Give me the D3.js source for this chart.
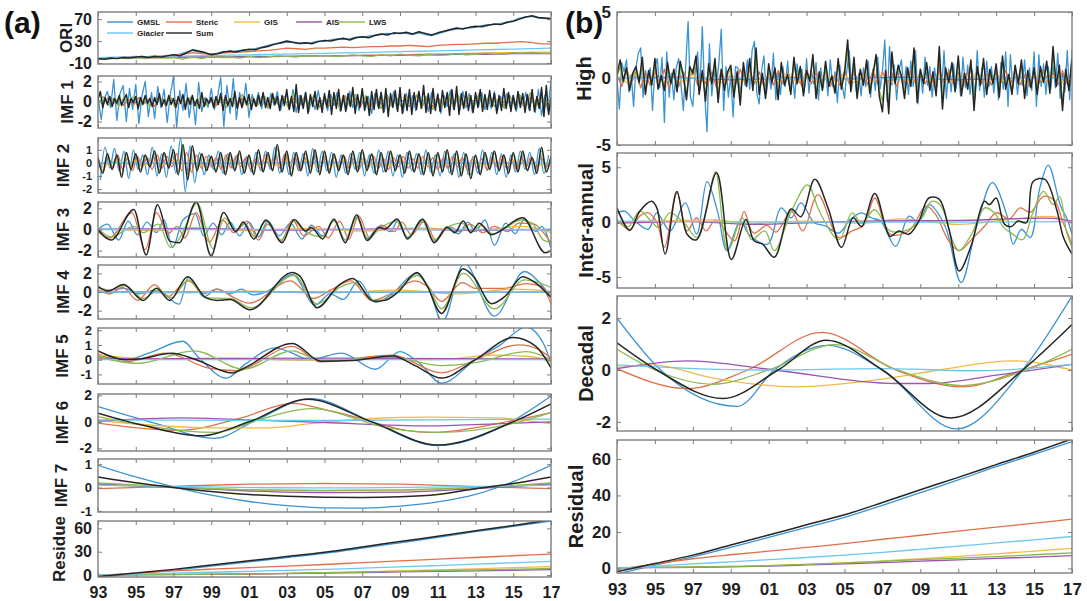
<!DOCTYPE html>
<html>
<head>
<meta charset="utf-8">
<script src="https://cdn.jsdelivr.net/npm/d3@7"></script>
<style>
  html, body { margin: 0; padding: 0; background: #fff; }
  svg { display: block; font-family: "Liberation Sans", Arial, Helvetica, sans-serif; }
</style>
</head>
<body>
<svg id="chart" width="1087" height="601"></svg>
<script>
// ---------------- series & axes ----------------
const seriesNames  = ["GMSL", "Steric", "GIS", "AIS", "LWS", "Glacier", "Sum"];
const seriesColors = ["#3a93d2", "#e07048", "#f0bb48", "#9a55ad", "#88ba50", "#6cc8ef", "#262626"];
const xTickYears  = [1993, 1995, 1997, 1999, 2001, 2003, 2005, 2007, 2009, 2011, 2013, 2015, 2017];
const xTickLabels = ["93", "95", "97", "99", "01", "03", "05", "07", "09", "11", "13", "15", "17"];
const T0 = 1993, T1 = 2017;

// ---------------- (a) ORI : original series (mm) ----------------
const oriGmsl = [-3,-2,-2, -1,-1,0, 0,2,1, 1,2,4, 4,6,10, 13,10,8, 6,8,11, 10,12,14, 14,16,19, 22,25,26, 28,27,25, 26,27,30, 30,32,34, 33,34,37, 37,39,41, 42,44,43, 45,44,42, 45,42,40, 43,47,50, 52,53,54, 55,58,60, 60,62,65, 67,72,74, 75,72,71, 70];
const oriSteric = [-2,-1, 0,1, 2,1, 3,2, 4,6, 9,7, 6,8, 9,10, 11,12, 13,15, 17,16, 15,17, 17,18, 19,18, 19,20, 20,21, 21,22, 21,20, 22,23, 24,24, 25,26, 26,27, 28,29, 27,25, 25];
const oriGis = [-1,-1,0,-1,0,0,1,0,1,1,2,2,3,3,4,5,5,6,7,7,8,9,9,10,10];
const oriAis = [-1,0,0,0,1,1,1,1,2,2,2,3,3,3,4,4,4,5,5,6,6,6,7,7,7];
const oriLws = [-2,-3,-1,-2,0,-2,1,-1,0,-3,1,-2,2,0,1,-1,2,0,1,3,2,1,3,2,4,2,3,5,3,2,5,3,6,4,3,6,4,5,7,5,6,8,6,7,9,8,9,8,8];
const oriGlacier = [0,0.6,1.2,1.8,2.4,3.0,3.6,4.2,4.9,5.6,6.3,7.0,7.7,8.4,9.1,9.8,10.6,11.4,12.2,13.0,13.8,14.6,15.4,16.2,17.0];
const oriSum = [-2,-3,-1, -2,0,-1, 1,2,0, 2,1,3, 5,3,8, 14,12,9, 5,7,10, 12,10,13, 15,14,18, 20,24,27, 30,28,26, 27,25,29, 31,30,33, 35,32,36, 38,36,40, 43,41,45, 44,46,43, 47,44,41, 45,48,51, 54,52,55, 57,56,59, 61,60,64, 66,70,74, 76,73,72, 71];

// ---------------- (a) IMF 1 ----------------
const imf1Gmsl = [
  0.5,-1.8,0.3,1.0,-0.6,2.2, -1.9,0.8,1.6,-2.0,1.3,-0.8, 1.7,-2.2,0.6,2.0,-1.5,0.9, -1.7,1.5,-0.6,1.2,-2.1,0.7,
  2.5,-2.6,1.1,-0.9,1.8,-1.6, 0.6,-2.3,1.9,-1.0,0.4,-0.6, 1.3,-0.8,0.5,2.4,-2.5,1.6, -1.2,2.3,-1.8,0.9,-0.5,1.8,
  -1.6,0.7,-0.4,0.9,-0.7,0.5, -0.6,0.8,-0.4,1.0,-0.9,0.3, 0.8,-0.7,1.2,-1.1,0.6,-0.5, 0.9,-1.0,0.4,-0.8,1.1,-0.6,
  0.5,-0.9,0.7,-0.4,0.9,-1.0, 0.6,-0.8,1.0,-0.6,0.4,-0.9, 1.1,-0.7,0.5,-1.2,0.8,-0.5, 0.9,-1.0,0.6,-0.4,1.0,-0.8,
  0.7,-1.1,0.8,-0.5,0.6,-0.9, 1.0,-0.6,0.5,-1.0,0.9,-0.7, 0.8,-1.2,0.6,-0.5,1.1,-0.8, 0.5,-0.9,1.0,-0.6,0.8,-1.1,
  0.7,-0.5,0.9,-0.8,0.4,-0.7, 1.0,-0.9,0.5,-0.6,0.8,-0.5, 0.6,-1.0,0.7,-0.4,0.9,-0.8, 0.5,-1.1,1.2,-1.4,0.6,-0.9, 2.1];
const imf1Steric = [0.2,-0.3,0.4,-0.2, 0.3,-0.4,0.2,-0.3, 0.4,-0.2,0.3,-0.5, 0.2,-0.3,0.5,-0.2, 0.3,-0.4,0.2,-0.3, 0.5,-0.3,0.2,-0.4, 0.3,-0.2,0.4,-0.5, 0.3,-0.4,0.2,-0.3, 0.6,-0.5,0.4,-0.3, 0.5,-0.6,0.3,-0.4, 0.4,-0.3,0.6,-0.5, 0.3,-0.4,0.5,-0.3, 0.6,-0.4,0.3,-0.5, 0.4,-0.6,0.5,-0.3, 0.5,-0.4,0.3,-0.6, 0.4,-0.3,0.6,-0.4, 0.3,-0.5,0.4,-0.3, 0.5,-0.4,0.3,-0.5, 0.4,-0.3,0.5,-0.4, 0.3,-0.5,0.4,-0.3, 0.6,-0.4,0.3,-0.5, 0.4,-0.3,0.5,-0.4, 0.3];
const imf1Gis = [0.1,-0.1,0.2,-0.1,0.1,-0.2,0.1,0.0,0.2,-0.1,0.1,-0.2,0.2,-0.1,0.1,-0.2,0.2,-0.2,0.3,-0.1,0.2,-0.2,0.1,-0.3,0.2,-0.1,0.3,-0.2,0.1,-0.2,0.3,-0.2,0.2,-0.3,0.1,-0.2,0.3,-0.1,0.2,-0.3,0.2,-0.2,0.3,-0.2,0.1,-0.3,0.2,-0.1,0.2];
const imf1Ais = [0.05,-0.05,0.08,-0.06,0.04,-0.07,0.06,-0.05,0.07,-0.04,0.05,-0.06,0.04];
const imf1Lws = [-0.3,0.5,-0.4,0.3, -0.5,0.4,-0.2,0.6, -0.4,0.3,-0.5,0.2, 0.4,-0.3,0.5,-0.6, 0.3,-0.2,0.4,-0.5, 0.6,-0.4,0.3,-0.2, 0.5,-0.6,0.4,-0.3, 0.7,-0.5,0.3,-0.4, 0.6,-0.7,0.5,-0.3, 0.4,-0.6,0.8,-0.5, 0.3,-0.4,0.7,-0.6, 0.5,-0.3,0.6,-0.8, 0.4,-0.5,0.7,-0.3, 0.6,-0.4,0.5,-0.7, 0.8,-0.5,0.4,-0.6, 0.5,-0.3,0.7,-0.5, 0.6,-0.8,0.4,-0.4, 0.7,-0.5,0.6,-0.3, 0.5,-0.6,0.8,-0.4, 0.6,-0.5,0.4,-0.7, 0.5,-0.4,0.6,-0.5, 0.9,-0.6,0.4,-0.5, -0.3];
const imf1Glacier = [0,0.02,-0.02,0.01,-0.01,0.02,-0.02,0.01,0];
const imf1Sum = [
  0.2,1.0,-0.6,0.4,-0.3,0.5,-0.5,0.3, -0.2,0.6,-0.4,0.2,0.7,-0.6,0.3,-0.1, 0.5,-0.7,0.4,-0.3,0.6,-0.2,0.3,-0.5,
  0.4,-0.3,0.8,-0.5,0.2,-0.4,0.6,-0.3, 0.3,-0.6,0.5,-0.2,0.7,-0.8,0.4,-0.3, 0.6,-0.4,0.2,-0.7,0.9,-0.5,0.3,-0.2,
  0.4,-0.6,0.5,-0.3,0.8,-0.9,0.6,-0.4, 0.3,-0.5,1.0,-0.7,0.4,-0.6,0.5,-0.3, 0.7,-0.8,0.3,-0.5,0.6,-0.4,0.9,-0.6,
  0.4,-0.7,0.8,-0.3,0.5,-0.9,0.6,-0.4, 1.2,-0.8,0.5,-1.0,1.7,-1.1,0.6,-0.7, 0.9,-1.2,0.7,-0.5,1.0,-0.8,0.4,-1.1,
  0.8,-0.6,1.1,-1.3,0.9,-0.7,1.2,-0.9, 0.6,-1.0,0.8,-0.5,1.4,-1.2,0.7,-0.6, 1.3,-0.9,0.5,-1.4,1.0,-0.8,1.2,-0.7,
  0.9,-1.1,1.3,-1.5,0.8,-0.6,1.1,-1.0, 1.4,-1.2,0.7,-0.9,1.2,-1.3,0.9,-0.8, 1.0,-0.7,1.6,-1.1,0.8,-1.2,1.3,-0.9,
  0.7,-1.0,1.1,-0.6,0.9,-1.4,1.2,-0.8, 1.5,-1.3,0.8,-0.7,1.0,-0.9,0.6,-1.1, 0.9,-0.6,1.2,-1.0,0.7,-0.8,1.1,-0.5,
  0.8,-1.2,0.6,-0.9,1.3,-0.7,0.9,-1.0, 0.6,-0.8,1.0,-0.6,0.8,-1.1,0.7,-0.9, 1.2,-1.0,0.5,-0.7,1.4,-1.5,1.6,-1.3, 0.4];

// ---------------- (a) IMF 2 ----------------
const imf2Gmsl = [
  -1.3,1.2,-0.4,1.1, -0.6,0.9,-1.2,1.0, -0.5,0.6,-0.9,1.2, -1.0,0.7,-1.1,1.3, -0.8,1.9,-2.2,1.3, -1.5,0.8,-0.9,0.6,
  -0.5,0.9,-0.8,0.7, -0.4,0.6,-0.9,0.5, -0.7,0.8,-0.6,0.9, -0.5,1.2,-0.8,0.6, -0.9,0.8,-0.6,0.7, -1.0,1.1,-0.7,0.9,
  -0.6,0.8,-1.1,0.6, -0.8,0.7,-0.5,0.8, -1.0,0.6,-0.8,1.0, -0.7,0.9,-1.0,0.6, -1.1,0.8,-0.6,0.7, -0.9,1.0,-0.7,0.6,
  -1.0,0.9,-0.8,0.7, -1.1,0.8,-0.9,0.5, -0.8,1.0,-0.6,0.8, -0.9,0.7,-1.1,0.6, -0.7,0.9,-0.5,0.8, -0.9,1.1,-0.8,0.6];
const imf2Steric = [0.5,-0.7,0.4,-0.3, 0.6,-0.5,0.4,-0.6, 0.5,-0.3,0.4,-0.5, 0.6,-0.4,0.5,-0.3, 0.7,-0.6,0.8,-0.7, 0.6,-0.4,0.5,-0.3, 0.4,-0.5,0.6,-0.4, 0.5,-0.3,0.4,-0.5, 0.3,-0.4,0.6,-0.3, 0.5,-0.4,0.7,-0.4, 0.5,-0.6,0.4,-0.3, 0.6,-0.4,0.5,-0.5, 0.4,-0.3,0.5,-0.4, 0.3,-0.5,0.4,-0.3, 0.5,-0.4,0.3,-0.5, 0.4,-0.3,0.5,-0.4, 0.3,-0.4,0.5,-0.3, 0.4,-0.5,0.3,-0.4, 0.5,-0.3,0.4,-0.5, 0.3,-0.4,0.3,-0.5, 0.4,-0.3,0.5,-0.4, 0.3,-0.5,0.4,-0.3, 0.5,-0.4,0.4,-0.3, 0.4];
const imf2Gis = [0.1,-0.15,0.2,-0.1,0.15,-0.2,0.1,-0.15,0.2,-0.1,0.15,-0.2,0.2,-0.1,0.15,-0.2,0.1,-0.15,0.2,-0.2,0.15,-0.1,0.2,-0.15,0.1,-0.2,0.15,-0.1,0.2,-0.15,0.1,-0.2,0.2,-0.1,0.15,-0.2,0.1,-0.15,0.2,-0.1,0.15,-0.2,0.1,-0.15,0.2,-0.1,0.15,-0.2,0.1];
const imf2Ais = [0.02,-0.03,0.03,-0.02,0.02];
const imf2Lws = [
  0.3,-0.6,0.6,-0.4, 0.5,-0.9,0.6,-0.4, 0.6,-0.5,0.5,-0.3, 0.7,-0.6,0.6,-0.3, 0.8,-0.7,1.1,-1.0, 1.0,-0.5,0.6,-0.5,
  0.4,-0.6,0.6,-0.7, 0.6,-0.5,0.7,-0.6, 0.5,-0.7,0.8,-0.6, 0.6,-0.5,1.1,-0.6, 0.7,-0.8,0.6,-0.5, 0.7,-0.6,0.8,-0.7,
  0.7,-0.6,0.6,-0.5, 0.5,-0.7,0.7,-0.6, 0.8,-0.5,0.6,-0.7, 0.6,-0.6,0.7,-0.5, 0.5,-0.6,0.7,-0.6, 0.6,-0.7,0.6,-0.8,
  0.6,-0.6,0.8,-0.7, 0.7,-0.8,0.6,-0.9, 0.5,-0.7,0.6,-0.4, 0.7,-0.5,0.5,-0.6, 0.6,-0.6,0.7,-0.5, 0.3,-0.6,0.9,-0.6, 0.4];
const imf2Glacier = [0.01,-0.01,0.01];
const imf2Sum = [
  0.4,-0.8,0.7,-0.5, 0.6,-1.1,0.8,-0.5, 0.7,-0.7,0.6,-0.3, 0.9,-0.8,0.8,-0.4, 1.0,-0.9,1.4,-1.3, 1.3,-0.6,0.7,-0.6,
  0.5,-0.7,0.8,-0.9, 0.8,-0.6,0.9,-0.8, 0.6,-0.9,1.0,-0.7, 0.8,-0.6,1.4,-0.7, 0.9,-1.0,0.8,-0.6, 0.9,-0.8,1.0,-0.9,
  0.9,-0.8,0.7,-0.6, 0.6,-0.9,0.9,-0.7, 1.0,-0.6,0.7,-0.9, 0.8,-0.7,0.9,-0.6, 0.6,-0.8,0.9,-0.7, 0.7,-0.9,0.8,-1.0,
  0.8,-0.7,1.0,-0.9, 0.9,-1.0,0.7,-1.2, 0.6,-0.9,0.8,-0.5, 0.9,-0.6,0.6,-0.8, 0.8,-0.7,0.9,-0.6, 0.4,-0.8,1.2,-0.7, 0.5];

// ---------------- (a) IMF 3 : [year, value] turning points ----------------
const imf3Gmsl = [[1993.0,0.0],[1993.5,0.5],[1994.1,-1.0],[1994.6,0.8],[1995.1,-0.5],[1995.6,0.7],[1996.1,-0.3],[1996.5,0.9],[1996.95,-1.7],[1997.5,0.9],[1998.15,1.5],[1998.6,-0.6],[1999.1,0.6],[1999.55,-0.5],[2000.0,0.7],[2000.5,-0.6],[2001.0,0.7],[2001.5,-0.7],[2002.0,0.8],[2002.6,-0.6],[2003.2,0.6],[2003.8,-0.9],[2004.3,0.4],[2004.9,-0.6],[2005.5,0.9],[2006.1,-1.0],[2006.7,1.2],[2007.25,-0.9],[2007.9,0.3],[2008.5,-0.2],[2008.9,0.9],[2009.4,-0.8],[2010.15,0.9],[2010.8,-1.1],[2011.5,0.3],[2012.1,-0.4],[2012.6,0.7],[2013.0,-0.2],[2013.5,0.9],[2014.0,-1.5],[2014.6,0.6],[2015.1,-0.4],[2015.6,1.0],[2016.2,-0.2],[2016.5,0.3],[2017.0,-1.8]];
const imf3Steric = [[1993.0,-0.2],[1993.6,-0.8],[1994.8,1.6],[1995.5,-1.9],[1996.1,1.6],[1996.7,-0.4],[1997.2,0.3],[1997.6,-0.8],[1998.2,1.6],[1998.9,-1.2],[1999.6,0.9],[2000.2,-0.3],[2000.9,0.8],[2001.5,-1.0],[2002.0,0.5],[2002.7,-1.1],[2003.3,0.9],[2003.9,-0.6],[2004.7,0.3],[2005.2,-0.8],[2005.8,0.8],[2006.3,-0.9],[2006.8,1.3],[2007.4,-0.8],[2008.0,0.4],[2008.7,-0.2],[2009.1,0.7],[2009.6,-0.5],[2010.3,0.8],[2010.9,-1.0],[2011.6,0.3],[2012.2,-0.2],[2012.7,0.5],[2013.4,-0.3],[2014.0,0.3],[2014.7,-0.2],[2015.3,0.6],[2016.1,0.5],[2016.6,-0.3],[2017.0,-1.3]];
const imf3Gis = [[1993,0.05],[1996,-0.1],[1998,0.15],[2001,-0.1],[2004,0.1],[2007,-0.15],[2010,0.15],[2013,-0.1],[2015.5,0.3],[2017,-0.3]];
const imf3Ais = [[1993,0],[1998,0.1],[2003,-0.05],[2008,0.05],[2013,-0.05],[2017,0]];
const imf3Lws = [[1993.0,0.1],[1993.7,-0.7],[1994.9,0.3],[1995.4,-0.3],[1996.2,0.5],[1996.85,-1.7],[1997.4,-0.6],[1998.25,2.5],[1999.1,-1.8],[1999.7,1.1],[2000.3,-0.1],[2000.8,0.5],[2001.3,-0.7],[2001.9,0.8],[2002.7,-1.0],[2003.35,0.8],[2004.0,-0.2],[2004.9,-0.7],[2005.5,0.8],[2006.1,-1.0],[2006.7,1.1],[2007.3,-0.8],[2008.0,0.2],[2008.8,0.8],[2009.4,-0.7],[2010.2,0.8],[2010.8,-1.0],[2011.5,0.2],[2012.3,0.6],[2012.8,-0.2],[2013.3,0.4],[2013.9,-0.4],[2014.6,0.2],[2015.4,0.9],[2016.0,0.6],[2016.6,-1.0],[2017.0,-1.2]];
const imf3Glacier = [[1993,0],[2017,0]];
const imf3Sum = [[1993.0,0.0],[1993.7,-1.0],[1994.9,1.9],[1995.55,-2.4],[1996.15,2.35],[1996.8,-1.1],[1997.3,-1.25],[1998.2,2.6],[1999.0,-2.5],[1999.65,1.6],[2000.3,-0.2],[2000.7,0.7],[2001.25,-0.9],[2001.9,0.9],[2002.75,-1.25],[2003.4,0.95],[2004.0,-0.15],[2004.3,0.2],[2004.9,-0.9],[2005.5,1.0],[2006.1,-1.25],[2006.7,1.4],[2007.25,-1.05],[2007.9,0.2],[2008.2,0.05],[2008.85,1.0],[2009.4,-0.9],[2010.2,1.0],[2010.8,-1.25],[2011.5,0.2],[2011.9,-0.3],[2012.35,0.8],[2012.75,-0.3],[2013.2,0.6],[2013.85,-0.5],[2014.6,0.2],[2015.05,0.8],[2015.5,1.1],[2016.7,-2.2],[2017.0,-2.0]];

// ---------------- (a) IMF 4 ----------------
const imf4Gmsl = [[1993.0,0.5],[1993.6,0.2],[1994.4,0.4],[1995.2,-0.2],[1996.0,0.2],[1996.6,-0.4],[1997.3,-1.3],[1997.8,1.6],[1998.6,-0.5],[1999.3,0.3],[2000.0,-0.2],[2000.6,0.3],[2001.2,-0.3],[2002.0,0.1],[2003.3,1.9],[2004.5,-1.4],[2005.3,-0.2],[2006.0,-0.8],[2006.8,1.2],[2007.7,-1.1],[2008.4,-0.5],[2009.9,2.0],[2010.5,0.5],[2011.25,-3.2],[2012.4,3.1],[2014.0,-2.6],[2015.6,2.2],[2016.4,1.0],[2017.0,-0.5]];
const imf4Steric = [[1993.0,0.3],[1993.6,-0.2],[1994.3,0.5],[1995.1,-0.9],[1996.0,0.8],[1996.7,-0.5],[1997.3,0.5],[1997.8,1.2],[1998.6,-0.2],[1999.3,0.3],[2000.2,-0.6],[2001.0,-1.2],[2003.2,1.2],[2004.4,-0.7],[2005.4,0.3],[2006.4,1.2],[2007.5,-0.9],[2008.3,-0.4],[2009.8,1.2],[2010.5,0.5],[2011.2,-1.0],[2012.3,1.0],[2013.0,0.4],[2014.5,0.4],[2015.7,0.9],[2016.5,0.6],[2017.0,-1.3]];
const imf4Gis = [[1993,0.1],[1997,-0.1],[2001,0.1],[2005,-0.1],[2009,0.2],[2012,-0.2],[2015,0.3],[2017,0.1]];
const imf4Ais = [[1993,0],[2000,0.05],[2008,-0.05],[2017,0]];
const imf4Lws = [[1993.0,0.5],[1993.6,0.2],[1994.4,0.7],[1995.4,-0.7],[1996.2,0.2],[1996.9,-0.6],[1997.8,1.3],[1998.7,-0.6],[2000.0,-0.7],[2001.1,-1.7],[2003.4,1.8],[2004.6,-1.3],[2005.9,0.6],[2006.6,1.0],[2007.6,-0.9],[2008.4,-0.7],[2009.9,1.8],[2010.5,0.6],[2011.2,-1.8],[2012.35,2.0],[2014.0,-1.8],[2015.6,1.3],[2017.0,0.5]];
const imf4Glacier = [[1993,0],[2017,0]];
const imf4Sum = [[1993.0,0.6],[1993.5,0.1],[1994.35,0.8],[1995.4,-0.9],[1996.1,0.4],[1996.8,-0.9],[1997.75,1.65],[1998.7,-0.6],[1999.3,-0.9],[2000.0,-0.8],[2001.05,-1.9],[2003.3,2.1],[2003.7,1.7],[2004.6,-1.7],[2005.8,0.8],[2006.5,1.45],[2007.6,-1.0],[2008.2,-0.9],[2008.9,0.0],[2009.9,2.1],[2010.4,0.8],[2011.2,-2.3],[2012.35,2.5],[2012.9,1.65],[2013.85,-1.25],[2014.6,-0.4],[2015.5,1.65],[2016.3,0.8],[2017.0,-0.6]];

// ---------------- (a) IMF 5 ----------------
const imf5Gmsl = [[1993.0,0.25],[1994.5,0.0],[1995.8,0.5],[1997.5,1.25],[1998.3,0.2],[1999.8,-1.25],[2000.8,-0.3],[2002.4,0.8],[2003.2,0.5],[2004.2,0.0],[2005.9,0.45],[2007.7,-0.65],[2009.0,0.55],[2010.0,-0.2],[2011.2,-1.6],[2013.0,0.0],[2014.2,0.9],[2015.7,2.2],[2016.6,1.1],[2017.0,-0.2]];
const imf5Steric = [[1993.0,0.4],[1994.5,-0.15],[1996.6,0.45],[1998.8,-0.55],[2000.3,-0.75],[2003.3,0.9],[2004.8,-0.15],[2008.6,0.3],[2011.2,-0.9],[2013.0,0.0],[2015.3,1.0],[2016.4,0.65],[2017.0,0.1]];
const imf5Gis = [[1993,0.3],[1996,0.05],[2000,0.1],[2004,-0.05],[2008,0.05],[2011,0.0],[2014,0.3],[2016,0.2],[2017,-0.15]];
const imf5Ais = [[1993,0.05],[2005,0.1],[2017,0.05]];
const imf5Lws = [[1993.0,0.2],[1995.1,-0.25],[1998.1,0.6],[2000.7,-0.65],[2003.3,0.6],[2004.8,-0.05],[2008.6,0.15],[2011.2,-0.4],[2013.0,-0.2],[2015.7,0.55],[2017.0,0.0]];
const imf5Glacier = [[1993,0],[2017,0]];
const imf5Sum = [[1993.0,0.6],[1994.5,0.0],[1995.2,0.05],[1996.9,0.43],[1998.2,0.0],[2000.1,-0.9],[2000.7,-0.6],[2003.3,1.1],[2004.8,-0.1],[2006.5,-0.05],[2008.6,0.25],[2009.8,-0.4],[2011.2,-1.25],[2013.0,0.0],[2015.0,1.5],[2016.2,0.9],[2017.0,-0.55]];

// ---------------- (a) IMF 6 ----------------
const imf6Gmsl = [[1993.0,1.15],[1996.0,-0.1],[1999.2,-1.25],[2001.2,0.0],[2004.3,1.75],[2007.5,0.0],[2011.0,-1.8],[2015.0,0.1],[2017.0,1.95]];
const imf6Steric = [[1993.0,-0.1],[1997.3,-0.65],[2000.6,0.3],[2003.3,1.4],[2005.4,0.8],[2010.5,-0.8],[2015.0,0.1],[2017.0,0.7]];
const imf6Gis = [[1993.0,0.1],[1999.0,-0.45],[2002.0,-0.45],[2004.5,-0.1],[2007.5,0.25],[2010.5,0.35],[2014.0,0.3],[2017.0,-0.15]];
const imf6Ais = [[1993.0,0.05],[1997.5,0.3],[2001.0,0.15],[2005.0,-0.05],[2010.5,-0.3],[2014.0,-0.15],[2017.0,0.0]];
const imf6Lws = [[1993.0,0.4],[1999.2,-0.8],[2001.6,0.2],[2004.3,1.0],[2008.5,-0.5],[2011.0,-0.8],[2015.2,-0.05],[2017.0,0.7]];
const imf6Glacier = [[1993,0.15],[2005,0.1],[2017,0.2]];
const imf6Sum = [[1993.0,0.65],[1995.5,-0.3],[1998.4,-1.05],[2001.0,0.0],[2004.1,1.7],[2007.5,0.0],[2011.0,-1.75],[2015.0,0.0],[2017.0,1.35]];

// ---------------- (a) IMF 7 (even steps) ----------------
const imf7Gmsl = [0.95,0.45,0.03,-0.33,-0.6,-0.78,-0.87,-0.88,-0.8,-0.62,-0.3,0.25,0.95];
const imf7Steric = [-0.05,0.05,0.14,0.17,0.14,0.04,-0.05];
const imf7Gis = [0.1,0.02,-0.1,-0.15,-0.12,-0.02,0.15];
const imf7Ais = [0.15,0.0,-0.15,-0.22,-0.2,-0.05,0.15];
const imf7Lws = [0.2,0.02,-0.1,-0.12,-0.1,0.0,0.2];
const imf7Glacier = [0.1,-0.02,0.1];
const imf7Sum = [0.45,0.2,0.0,-0.17,-0.3,-0.38,-0.42,-0.43,-0.4,-0.3,-0.05,0.17,0.45];

// ---------------- residual trend (mm), shared by (a) Residue and (b) Residual ----------------
const resGmsl = [-3.0,1.8,6.3,11.6,17.0,22.5,28.0,34.6,41.5,48.5,55.8,62.5,69.5];
const resSteric = [-0.5,2.5,5.3,7.5,9.5,11.5,13.6,16.0,18.2,20.5,22.6,24.8,27.0];
const resGis = [0.5,0.6,0.8,1.1,1.5,2.2,3.0,4.1,5.3,6.6,8.0,9.5,11.0];
const resAis = [0.3,0.4,0.6,0.9,1.3,1.9,2.5,3.2,4.0,4.7,5.5,6.2,7.0];
const resLws = [0.5,0.6,0.8,1.1,1.5,2.2,3.0,3.9,4.8,5.6,6.5,7.5,8.5];
const resGlacier = [0.0,1.2,2.5,3.6,4.8,6.0,7.3,8.8,10.5,12.2,14.0,15.7,17.5];
const resSum = [-1.8,2.7,7.3,12.8,18.3,23.9,29.4,36.1,43.1,49.9,56.9,63.7,71.0];

// ---------------- (b) High frequency ----------------
const highGmsl = [
  0,-2.3,1.2,0.5,1.4,-1.0,0.3,-2.1, 0.8,1.9,2.3,-1.4,0.6,-0.3,0.8,-2.4, 0.9,1.5,-0.7,1.6,-3.3,2.0,-1.4,0.4,
  -1.6,0.8,1.5,-0.5,-2.4,1.0,4.3,-1.4, -2.1,0.5,2.0,-0.9,3.9,-1.2,-4.0,2.6, -1.3,0.6,-0.5,1.2,3.7,-2.4,0.9,-1.4,
  0.2,-2.9,0.9,0.8,-1.4,0.7,-0.5,1.4, -0.8,2.1,2.8,-1.1,-1.9,0.6,1.7,-1.2, 0.4,-0.8,1.9,-1.6,0.5,-1.2,0.9,-0.6,
  1.3,-0.9,0.4,-1.5,1.1,-0.3,0.7,-1.0, 1.5,-1.1,0.6,-0.4,1.2,-1.6,0.8,-0.7, 0.9,-1.3,1.4,-0.6,0.5,-1.8,1.0,-0.5,
  -1.5,0.6,2.1,-0.8,1.2,-1.0,0.4,-1.3, 0.8,-0.6,1.3,-1.4,0.7,-0.9,1.6,-0.8, 0.5,2.9,-1.7,2.4,-0.5,1.0,-1.6,0.6,
  1.4,-0.7,0.9,-1.2,1.3,-0.6,2.1,-1.9, 0.6,-1.1,1.6,-0.5,0.9,-1.4,0.8,-0.6, 1.2,-0.9,2.1,-1.5,0.7,-1.0,1.1,-0.8,
  0.5,-1.3,1.6,-0.7,1.0,-1.2,0.6,-1.5, 2.1,-0.9,0.8,-1.4,1.3,-0.6,0.9,-1.1, 0.7,-1.6,1.2,-0.8,2.0,-2.1,1.8,-0.7,
  0.9,-1.2,0.6,-0.5,1.4,-1.3,0.8,-0.9, 2.0,-2.1,1.8,-0.6,1.1,-1.2,0.9,-0.8, 1.0,-0.7,1.9,-1.5,0.6,-1.0,2.1,-1.6, 2.2];
const highSteric = [0.3,-0.6,0.8,-0.4, 0.5,-0.7,0.4,-0.5, 0.6,-0.3,0.7,-0.8, 0.4,-0.6,0.5,-0.3, 0.7,-0.5,0.3,-0.6, 0.5,-0.7,0.6,-0.4, 0.4,-0.5,0.7,-0.3, 0.6,-0.4,0.5,-0.6, 0.3,-0.5,0.6,-0.4, 0.5,-0.3,0.4,-0.6, 0.7,-0.4,0.5,-0.3, 0.4,-0.6,0.3,-0.5, 0.6,-0.4,0.5,-0.3, 0.4,-0.5,0.6,-0.4, 0.5,-0.3,0.4,-0.6, 0.3,-0.5,0.6,-0.4, 0.5,-0.4,0.3,-0.5, 0.6,-0.3,0.5,-0.4, 0.4,-0.6,0.5,-0.3, 0.6,-0.4,0.3,-0.5, 0.5,-0.3,0.6,-0.4, 0.4,-0.5,0.3,-0.6, 0.5,-0.4,0.6,-0.3, 0.4,-0.5,0.5,-0.4, 0.3];
const highGis = [0.2,-0.3,0.3,-0.2,0.25,-0.3,0.2,-0.25,0.3,-0.2,0.2,-0.3,0.3,-0.25,0.2,-0.3,0.25,-0.2,0.3,-0.3,0.2,-0.25,0.3,-0.2,0.25,-0.3,0.2,-0.2,0.3,-0.25,0.2,-0.3,0.3,-0.2,0.25,-0.3,0.2,-0.25,0.3,-0.2,0.2,-0.3,0.25,-0.2,0.3,-0.25,0.2,-0.3,0.2];
const highAis = [0,0.1,-0.1,0.05,-0.05,0.1,-0.1,0.05,0];
const highLws = [
  0.1,0.9,-0.3,0.6,-0.6,0.2, 0.6,-0.4,1.1,-0.9,0.4,-0.3, 1.0,-0.6,0.1,-0.7,0.8,-0.3, 0.5,-0.7,0.9,0.1,-1.1,0.6,
  0.3,1.2,-0.8,0.4,-1.2,0.8, -0.3,1.0,-1.2,0.5,-0.6,0.3, 0.7,-1.0,0.3,-1.4,0.8,-0.4, 1.0,-0.6,1.6,-0.8,0.3,-1.0,
  0.8,-0.2,0.6,-1.1,0.8,-0.3, 0.2,-0.8,1.1,-0.3,0.6,-0.9, 0.4,-0.1,1.3,-1.0,0.3,-0.6, 0.9,-0.4,0.1,-0.8,1.1,-0.5,
  0.3,2.0,-0.7,1.1,-1.0,0.5, -0.3,1.0,-0.8,0.2,1.5,-0.9, -1.7,0.4,-1.8,1.4,-0.3,0.7, 0.1,-1.0,0.6,-0.4,1.7,-1.2,
  0.5,-0.3,0.9,-0.6,0.3,-0.9, 1.8,-1.7,0.6,-0.2,0.9,-0.7, 1.3,-0.9,0.3,-0.6,1.0,-1.7, 0.6,-0.3,1.1,-0.8,0.5,-0.3,
  0.8,-1.0,1.3,-0.6,0.2,-0.8, 0.7,-0.3,1.0,-1.1,0.4,-0.5, 0.6,-0.8,0.7,-0.2,0.9,-0.8, 1.8,-0.4,0.7,-1.7,0.5,-0.6, 1.1];
const highGlacier = [0,0.05,-0.05,0.05,0];
const highSum = [
  0.3,1.4,-0.2,0.8,-0.9,0.4, 0.9,-0.3,1.6,-1.2,0.6,-0.5, 1.5,-0.8,0.2,-0.9,1.2,-0.4, 0.7,-1.0,1.3,0.2,-1.6,0.9,
  0.4,1.7,-1.2,0.6,-1.7,1.1, -0.4,1.5,-1.8,0.7,-0.9,0.5, 1.0,-1.4,0.5,-2.0,1.2,-0.6, 1.5,-0.9,2.3,-1.2,0.4,-1.5,
  1.1,-0.3,0.8,-1.6,1.2,-0.5, 0.3,-1.2,1.6,-0.4,0.9,-1.3, 0.6,-0.2,1.8,-1.5,0.5,-0.9, 1.3,-0.6,0.2,-1.1,1.5,-0.8,
  0.4,2.9,-1.0,1.6,-1.5,0.7, -0.5,1.4,-1.1,0.3,1.8,-1.3, -2.5,0.6,-2.65,2.0,-0.4,1.0, 0.2,-1.5,0.8,-0.6,2.3,-1.8,
  0.7,-0.4,1.2,-0.9,0.5,-1.3, 2.4,-2.3,0.8,-0.3,1.2,-1.0, 1.7,-1.3,0.4,-0.8,1.4,-2.4, 0.9,-0.5,1.5,-1.2,0.7,-0.4,
  1.1,-1.4,1.7,-0.8,0.3,-1.2, 1.0,-0.4,1.4,-1.5,0.6,-0.7, 0.8,-1.2,0.9,-0.3,1.3,-1.1, 2.4,-0.6,1.0,-2.4,0.7,-0.9, 1.5];

// ---------------- (b) Inter-annual : [year, value] turning points ----------------
const interGmsl = [[1993.0,0.85],[1993.4,1.0],[1993.95,0.1],[1994.65,-0.65],[1995.1,0.85],[1995.8,-0.8],[1996.6,1.75],[1997.2,-1.1],[1997.75,3.7],[1998.3,1.0],[1998.8,-2.6],[1999.5,0.1],[2000.0,-1.2],[2000.95,-2.0],[2001.65,1.3],[2002.2,0.4],[2002.7,1.75],[2003.4,-0.05],[2004.0,-0.35],[2004.7,-1.0],[2005.3,0.25],[2005.9,0.85],[2006.4,0.4],[2006.9,0.1],[2007.7,-2.2],[2008.4,0.55],[2008.9,0.0],[2009.45,1.6],[2010.3,-0.35],[2011.15,-5.5],[2011.95,-0.5],[2012.8,3.6],[2013.55,0.7],[2013.9,-2.0],[2014.33,-0.65],[2014.8,-1.4],[2015.3,3.1],[2015.75,5.2],[2016.4,1.45],[2016.75,0.25],[2017.0,-1.1]];
const interSteric = [[1993.0,0.25],[1993.67,-0.65],[1994.2,0.55],[1994.65,0.85],[1995.1,0.0],[1995.5,-2.3],[1996.16,2.65],[1996.7,-0.8],[1997.2,0.4],[1997.7,-0.8],[1998.2,0.2],[1999.2,-1.7],[1999.7,0.95],[2000.2,-1.0],[2000.9,-0.3],[2001.4,-0.9],[2002.2,1.0],[2002.8,-0.8],[2003.6,2.5],[2004.7,-1.4],[2005.4,-0.8],[2006.0,-0.3],[2006.6,2.2],[2007.4,-1.1],[2008.4,-0.8],[2009.3,1.45],[2009.8,0.7],[2010.5,-1.7],[2011.05,-2.6],[2011.8,-1.4],[2012.4,-0.35],[2013.0,0.85],[2013.7,0.3],[2014.25,1.3],[2014.8,0.9],[2015.5,2.35],[2016.1,1.9],[2016.5,0.1],[2017.0,-2.0]];
const interGis = [[1993,0],[1995,0.1],[1998,0.2],[2000,-0.1],[2003,0.1],[2006,-0.1],[2008,0.3],[2011,-0.2],[2014,0.3],[2016,0.5],[2017,-0.1]];
const interAis = [[1993,-0.1],[1997,0.05],[2000,-0.2],[2006,0.1],[2011,0.15],[2016,0.35],[2017,0.1]];
const interLws = [[1993.0,0.1],[1993.6,-0.4],[1994.2,1.0],[1994.8,0.1],[1995.2,-0.5],[1995.8,0.85],[1996.6,-0.2],[1997.2,-1.4],[1997.7,1.0],[1998.2,4.6],[1998.85,-2.6],[1999.6,0.4],[2000.1,-1.6],[2000.8,-0.8],[2001.3,-2.6],[2002.2,1.0],[2003.05,3.4],[2003.7,0.9],[2004.7,-1.6],[2005.4,0.85],[2005.9,-0.1],[2006.6,1.15],[2007.4,-0.8],[2008.4,-0.65],[2009.1,0.4],[2009.6,1.9],[2010.1,1.45],[2010.7,-1.7],[2011.05,-2.6],[2011.7,-1.1],[2012.4,1.3],[2012.9,0.85],[2013.4,-0.5],[2013.8,-1.0],[2014.4,-1.6],[2014.9,0.7],[2015.5,2.8],[2016.0,1.6],[2016.35,2.3],[2016.7,-0.8],[2017.0,-2.3]];
const interGlacier = [[1993,0.1],[2005,0.0],[2017,0.05]];
const interSum = [[1993.0,1.3],[1993.67,-0.75],[1994.2,1.0],[1994.83,1.9],[1995.1,1.3],[1995.54,-2.9],[1996.16,2.8],[1996.7,-1.1],[1997.2,-1.6],[1998.25,4.5],[1999.03,-3.4],[1999.8,0.25],[2000.23,-1.7],[2000.68,-2.0],[2001.3,-3.2],[2002.18,1.2],[2002.7,0.5],[2003.43,3.9],[2004.13,1.3],[2004.84,-2.3],[2005.46,0.4],[2005.9,-0.4],[2006.6,2.6],[2007.41,-1.3],[2007.86,-0.8],[2008.39,-1.1],[2008.92,0.1],[2009.45,2.2],[2009.99,2.1],[2010.52,-0.7],[2011.05,-4.45],[2011.67,-2.2],[2012.38,1.9],[2012.65,1.6],[2013.0,2.2],[2013.44,-0.2],[2013.8,-0.4],[2014.15,0.1],[2014.6,-0.05],[2014.95,3.7],[2015.57,3.9],[2016.19,1.15],[2016.55,-1.4],[2017.0,-2.9]];

// ---------------- (b) Decadal ----------------
const decGmsl = [[1993.0,2.0],[1995.3,0.0],[1999.35,-1.4],[2001.3,0.0],[2004.1,0.95],[2007.0,0.0],[2010.9,-2.27],[2014.4,0.0],[2017.0,2.85]];
const decSteric = [[1993.0,0.05],[1996.7,-0.72],[1999.9,0.0],[2003.8,1.45],[2007.7,0.0],[2011.2,-0.65],[2014.4,0.0],[2017.0,0.6]];
const decGis = [[1993.0,0.1],[1994.9,0.2],[1998.0,-0.3],[2002.4,-0.65],[2007.0,-0.35],[2010.0,0.0],[2013.9,0.35],[2017.0,0.0]];
const decAis = [[1993.0,0.05],[1996.7,0.35],[2001.3,0.0],[2007.7,-0.52],[2009.5,-0.52],[2013.0,-0.2],[2017.0,0.22]];
const decLws = [[1993.0,0.8],[1995.0,0.0],[1998.1,-0.55],[2001.0,0.0],[2004.5,0.98],[2007.8,0.0],[2011.2,-0.6],[2014.6,0.0],[2017.0,0.8]];
const decGlacier = [[1993.0,0.2],[2000.6,0.0],[2007.0,0.05],[2012.0,-0.03],[2017.0,0.22]];
const decSum = [[1993.0,1.05],[1995.1,0.0],[1998.6,-1.1],[2001.5,0.0],[2004.05,1.15],[2007.0,0.0],[2010.6,-1.85],[2014.4,0.0],[2017.0,1.75]];

// ---------------- helpers ----------------
// evenly spaced values -> [year, value]
function even(values, t0 = T0, t1 = T1) {
  const n = values.length;
  return values.map((v, i) => [t0 + i * (t1 - t0) / (n - 1), v]);
}

const svg = d3.select("#chart");
const AXIS_COLOR = "#7d7d7d";
let clipId = 0;

const sideA = { left: 98, right: 551, tickFont: 16, titleFont: 17 };
const sideB = { left: 617, right: 1072, tickFont: 17, titleFont: 20 };

const panelsA = [
  { title: "ORI",     titleX: 66, top: 12,  bottom: 64,  domain: [-11.8, 83],  ticks: [-10, 30, 70], curve: d3.curveLinear,
    series: [even(oriGmsl), even(oriSteric), even(oriGis), even(oriAis), even(oriLws), even(oriGlacier), even(oriSum)] },
  { title: "IMF 1",   titleX: 67, top: 76,  bottom: 128, domain: [-2.65, 2.55], ticks: [-2, 0, 2], curve: d3.curveLinear,
    series: [even(imf1Gmsl), even(imf1Steric), even(imf1Gis), even(imf1Ais), even(imf1Lws), even(imf1Glacier), even(imf1Sum)] },
  { title: "IMF 2",   titleX: 63, top: 138, bottom: 193, domain: [-2.3, 1.9], ticks: [-2, -1, 0, 1], tickFont: 11, curve: d3.curveMonotoneX,
    series: [even(imf2Gmsl, 1993.125, 2016.875), even(imf2Steric), even(imf2Gis), even(imf2Ais), even(imf2Lws), even(imf2Glacier), even(imf2Sum)] },
  { title: "IMF 3",   titleX: 63, top: 202, bottom: 257, domain: [-2.6, 2.6],  ticks: [-2, 0, 2], curve: d3.curveMonotoneX,
    series: [imf3Gmsl, imf3Steric, imf3Gis, imf3Ais, imf3Lws, imf3Glacier, imf3Sum] },
  { title: "IMF 4",   titleX: 63, top: 265, bottom: 319, domain: [-2.9, 2.9],  ticks: [-2, 0, 2], curve: d3.curveMonotoneX,
    series: [imf4Gmsl, imf4Steric, imf4Gis, imf4Ais, imf4Lws, imf4Glacier, imf4Sum] },
  { title: "IMF 5",   titleX: 62, top: 328, bottom: 384, domain: [-1.65, 2.15], ticks: [-1, 0, 1, 2], tickFont: 13, curve: d3.curveMonotoneX,
    series: [imf5Gmsl, imf5Steric, imf5Gis, imf5Ais, imf5Lws, imf5Glacier, imf5Sum] },
  { title: "IMF 6",   titleX: 62, top: 394, bottom: 451, domain: [-2.2, 2.1], ticks: [-2, 0, 2], tickFont: 14, curve: d3.curveMonotoneX,
    series: [imf6Gmsl, imf6Steric, imf6Gis, imf6Ais, imf6Lws, imf6Glacier, imf6Sum] },
  { title: "IMF 7",   titleX: 61, top: 459, bottom: 512, domain: [-1.05, 1.22], ticks: [-1, 0, 1], tickFont: 13, curve: d3.curveMonotoneX,
    series: [even(imf7Gmsl), even(imf7Steric), even(imf7Gis), even(imf7Ais), even(imf7Lws), even(imf7Glacier), even(imf7Sum)] },
  { title: "Residue", titleX: 59, top: 521, bottom: 577, domain: [-2.5, 69.5], ticks: [0, 30, 60], curve: d3.curveMonotoneX,
    series: [even(resGmsl), even(resSteric), even(resGis), even(resAis), even(resLws), even(resGlacier), even(resSum)] }
];

const panelsB = [
  { title: "High",         titleX: 584, top: 12,  bottom: 145, domain: [-5, 5],      ticks: [-5, 0, 5], curve: d3.curveLinear,
    series: [even(highGmsl), even(highSteric), even(highGis), even(highAis), even(highLws), even(highGlacier), even(highSum)] },
  { title: "Inter-annual", titleX: 586, top: 153, bottom: 288, domain: [-6, 6.3],    ticks: [-5, 0, 5], curve: d3.curveCatmullRom.alpha(0.5),
    series: [interGmsl, interSteric, interGis, interAis, interLws, interGlacier, interSum] },
  { title: "Decadal",      titleX: 586, top: 296, bottom: 431, domain: [-2.35, 2.85], ticks: [-2, 0, 2], curve: d3.curveMonotoneX,
    series: [decGmsl, decSteric, decGis, decAis, decLws, decGlacier, decSum] },
  { title: "Residual",     titleX: 576, top: 440, bottom: 573, domain: [-2.5, 70.4], ticks: [0, 20, 40, 60], curve: d3.curveMonotoneX,
    series: [even(resGmsl), even(resSteric), even(resGis), even(resAis), even(resLws), even(resGlacier), even(resSum)] }
];

function styleAxis(sel, fontSize) {
  sel.select(".domain").remove();
  sel.selectAll(".tick line").attr("stroke", AXIS_COLOR).attr("stroke-width", 1);
  sel.selectAll(".tick text")
    .attr("fill", "#1e1e1e")
    .style("font-size", fontSize + "px")
    .style("font-weight", "bold")
    .style("font-family", "'Liberation Sans', Arial, sans-serif");
}

function drawPanel(p, side, isBottom) {
  const x = d3.scaleLinear().domain([T0, T1]).range([side.left, side.right]);
  const y = d3.scaleLinear().domain(p.domain).range([p.bottom, p.top]);
  const g = svg.append("g");

  const id = "clip" + (clipId++);
  g.append("clipPath").attr("id", id)
    .append("rect")
    .attr("x", side.left).attr("y", p.top)
    .attr("width", side.right - side.left).attr("height", p.bottom - p.top);

  const line = d3.line().x(d => x(d[0])).y(d => y(d[1])).curve(p.curve);
  const plot = g.append("g").attr("clip-path", `url(#${id})`);
  seriesNames.forEach((name, i) => {
    plot.append("path")
      .attr("d", line(p.series[i]))
      .attr("fill", "none")
      .attr("stroke", seriesColors[i])
      .attr("stroke-width", name === "Sum" ? 1.5 : 1.3)
      .attr("stroke-linejoin", "round");
  });

  const yFont = p.tickFont || side.tickFont;

  // inward ticks on all four sides
  g.append("g").attr("transform", `translate(0,${p.bottom})`)
    .call(d3.axisBottom(x).tickValues(xTickYears).tickSize(-4).tickPadding(10)
      .tickFormat((d, i) => isBottom ? xTickLabels[i] : ""))
    .call(s => styleAxis(s, side.tickFont));
  g.append("g").attr("transform", `translate(0,${p.top})`)
    .call(d3.axisTop(x).tickValues(xTickYears).tickSize(-4).tickFormat(""))
    .call(s => styleAxis(s, side.tickFont));
  g.append("g").attr("transform", `translate(${side.left},0)`)
    .call(d3.axisLeft(y).tickValues(p.ticks).tickSize(-4).tickPadding(6).tickFormat(d => String(d)))
    .call(s => styleAxis(s, yFont));
  g.append("g").attr("transform", `translate(${side.right},0)`)
    .call(d3.axisRight(y).tickValues(p.ticks).tickSize(-4).tickFormat(""))
    .call(s => styleAxis(s, yFont));

  g.append("rect")
    .attr("x", side.left).attr("y", p.top)
    .attr("width", side.right - side.left).attr("height", p.bottom - p.top)
    .attr("fill", "none").attr("stroke", AXIS_COLOR).attr("stroke-width", 1.4);

  g.append("text")
    .attr("transform", `translate(${p.titleX},${(p.top + p.bottom) / 2}) rotate(-90)`)
    .attr("text-anchor", "middle")
    .attr("dy", "0.35em")
    .attr("fill", "#1e1e1e")
    .style("font-size", side.titleFont + "px")
    .style("font-weight", "bold")
    .text(p.title);
}

panelsA.forEach((p, i) => drawPanel(p, sideA, i === panelsA.length - 1));
panelsB.forEach((p, i) => drawPanel(p, sideB, i === panelsB.length - 1));

// legend inside the ORI panel
const legendRows = [
  [{ k: 0, x: 107 }, { k: 1, x: 166 }, { k: 2, x: 234 }, { k: 3, x: 296 }, { k: 4, x: 339 }],
  [{ k: 5, x: 107 }, { k: 6, x: 166 }]
];
const legendY = [22, 33];
const legend = svg.append("g");
legendRows.forEach((row, r) => {
  row.forEach(item => {
    legend.append("line")
      .attr("x1", item.x).attr("x2", item.x + 26)
      .attr("y1", legendY[r]).attr("y2", legendY[r])
      .attr("stroke", seriesColors[item.k]).attr("stroke-width", 1.4);
    legend.append("text")
      .attr("x", item.x + 30).attr("y", legendY[r]).attr("dy", "0.35em")
      .attr("fill", "#222")
      .style("font-size", "8px").style("font-weight", "bold")
      .text(seriesNames[item.k]);
  });
});

// panel tags
svg.append("text").attr("x", 4).attr("y", 33).attr("fill", "#111")
  .style("font-size", "30px").style("font-weight", "bold").text("(a)");
svg.append("text").attr("x", 565).attr("y", 33).attr("fill", "#111")
  .style("font-size", "30px").style("font-weight", "bold").text("(b)");
</script>
</body>
</html>
